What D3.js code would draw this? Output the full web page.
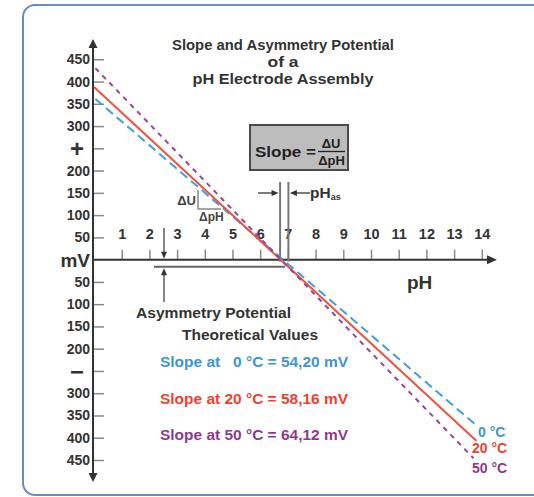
<!DOCTYPE html>
<html>
<head>
<meta charset="utf-8">
<script src="https://cdn.jsdelivr.net/npm/d3@7/dist/d3.min.js"></script>
<style>
  html, body { margin: 0; padding: 0; background: #fff; }
  svg { display: block; font-family: "Liberation Sans", Arial, Helvetica, sans-serif; font-weight: bold; }
</style>
</head>
<body>
<svg id="chart" width="534" height="497"></svg>
<script>
// ---------------- data ----------------
const titleLines = ["Slope and Asymmetry Potential", "of a", "pH Electrode Assembly"];
const pHTicks = [1, 2, 3, 4, 5, 6, 7, 8, 9, 10, 11, 12, 13, 14];
const mVTicks = [450, 400, 350, 300, 250, 200, 150, 100, 50, -50, -100, -150, -200, -250, -300, -350, -400, -450];
const seriesNames = ["0 °C", "20 °C", "50 °C"];
const seriesSlopes = ["54,20", "58,16", "64,12"];
const line0C = [[0.05, 361], [13.8, -372]];
const line20C = [[0.0, 388], [13.8, -407]];
const line50C = [[0.05, 430], [13.7, -446]];
const pHas = [6.7, 7.0];          // asymmetry pH markers
const asymPotential = -16;        // mV level of the intersection

// ---------------- setup ----------------
const svg = d3.select("#chart");
const colors = ["#3f9de0", "#f0503c", "#9b4597"];
const textColors = ["#3a96d6", "#ee3f31", "#8e3a8c"];
const dashes = ["9,5", null, "5,5"];

const x = d3.scaleLinear().domain([0, 14]).range([94, 481.8]);
const y = d3.scaleLinear().domain([-450, 450]).range([460, 59.3]);
const axisX = 93;

// frame
svg.append("rect").attr("x", 23).attr("y", 5).attr("width", 540).attr("height", 490)
  .attr("rx", 12).attr("fill", "#fff").attr("stroke", "#6b8cc2").attr("stroke-width", 2);

function arrowHead(tx, ty, dir, len, half, color) {
  let p;
  if (dir === "up") p = [[tx, ty], [tx - half, ty + len], [tx + half, ty + len]];
  if (dir === "down") p = [[tx, ty], [tx - half, ty - len], [tx + half, ty - len]];
  if (dir === "right") p = [[tx, ty], [tx - len, ty - half], [tx - len, ty + half]];
  if (dir === "left") p = [[tx, ty], [tx + len, ty - half], [tx + len, ty + half]];
  svg.append("path").attr("d", "M" + p.map(d => d.join(",")).join("L") + "Z").attr("fill", color || "#333");
}

// ---------------- title ----------------
const titleW = [222, 31, 181];
svg.append("g").selectAll("text").data(titleLines).join("text")
  .attr("x", 283).attr("y", (d, i) => 50 + i * 17)
  .attr("text-anchor", "middle").attr("font-size", 14.5).attr("fill", "#333")
  .attr("textLength", (d, i) => titleW[i]).attr("lengthAdjust", "spacingAndGlyphs")
  .text(d => d);

// ---------------- y axis ----------------
const yAxis = d3.axisLeft(y).tickValues(mVTicks).tickSizeInner(-11).tickSizeOuter(0).tickPadding(3)
  .tickFormat(d => d === 250 ? "+" : d === -250 ? "\u2212" : String(Math.abs(d)));
const gy = svg.append("g").attr("transform", `translate(${axisX},0)`).call(yAxis);
gy.select(".domain").remove();
gy.selectAll(".tick line").attr("stroke", "#888").attr("stroke-width", 1.5);
gy.selectAll(".tick text").attr("font-size", 14).attr("fill", "#333")
  .attr("font-family", "'Liberation Sans', Arial, sans-serif").attr("font-weight", "bold")
  .each(function (d) {
    if (Math.abs(d) === 250) {
      d3.select(this).attr("font-size", 24).attr("x", -9).attr("dy", d > 0 ? "0.36em" : "0.34em");
    }
  });

svg.append("line").attr("x1", axisX).attr("x2", axisX).attr("y1", 44).attr("y2", 476)
  .attr("stroke", "#333").attr("stroke-width", 2);
arrowHead(axisX, 39, "up", 9, 4.5);
arrowHead(axisX, 482, "down", 9, 4.5);

// ---------------- x axis ----------------
const xAxis = d3.axisTop(x).tickValues(pHTicks).tickSizeInner(10).tickSizeOuter(0).tickPadding(11)
  .tickFormat(d3.format("d"));
const gx = svg.append("g").attr("transform", `translate(0,${y(0)})`).call(xAxis);
gx.select(".domain").remove();
gx.selectAll(".tick line").attr("stroke", "#888").attr("stroke-width", 1.5);
gx.selectAll(".tick text").attr("font-size", 14.5).attr("fill", "#333")
  .attr("font-family", "'Liberation Sans', Arial, sans-serif").attr("font-weight", "bold");

svg.append("line").attr("x1", axisX).attr("x2", 489).attr("y1", y(0)).attr("y2", y(0))
  .attr("stroke", "#333").attr("stroke-width", 2);
arrowHead(497, y(0), "right", 10, 4.5);

svg.append("text").attr("x", 90).attr("y", y(0) + 7).attr("text-anchor", "end")
  .attr("font-size", 19).attr("fill", "#333").text("mV");
svg.append("text").attr("x", 407).attr("y", 289).attr("font-size", 19).attr("fill", "#333").text("pH");

// ---------------- annotations ----------------
// slope box
svg.append("rect").attr("x", 250).attr("y", 125).attr("width", 98).attr("height", 45)
  .attr("fill", "#bdbdbd").attr("stroke", "#4a4a4a").attr("stroke-width", 2);
svg.append("text").attr("x", 255).attr("y", 157).attr("font-size", 14.5).attr("fill", "#222")
  .attr("textLength", 61).attr("lengthAdjust", "spacingAndGlyphs").text("Slope =");
svg.append("text").attr("x", 331).attr("y", 148).attr("text-anchor", "middle").attr("font-size", 13).attr("fill", "#222").text("\u0394U");
svg.append("line").attr("x1", 318).attr("x2", 345).attr("y1", 151.5).attr("y2", 151.5).attr("stroke", "#222").attr("stroke-width", 1.3);
svg.append("text").attr("x", 331.5).attr("y", 165).attr("text-anchor", "middle").attr("font-size", 13).attr("fill", "#222").text("\u0394pH");

// pH_as markers
const pxL = x(pHas[0]) + 0.5, pxR = x(pHas[1]) + 0.5;
[pxL, pxR].forEach(px => {
  svg.append("line").attr("x1", px).attr("x2", px).attr("y1", 182).attr("y2", y(0) + 2)
    .attr("stroke", "#777").attr("stroke-width", 2);
});
svg.append("line").attr("x1", 258).attr("x2", pxL - 6).attr("y1", 193).attr("y2", 193).attr("stroke", "#333").attr("stroke-width", 1.3);
arrowHead(pxL - 1.5, 193, "right", 7, 3);
svg.append("line").attr("x1", 310).attr("x2", pxR + 6).attr("y1", 193).attr("y2", 193).attr("stroke", "#333").attr("stroke-width", 1.3);
arrowHead(pxR + 1.5, 193, "left", 7, 3);
const phas = svg.append("text").attr("x", 310).attr("y", 198).attr("font-size", 15.5).attr("fill", "#333");
phas.append("tspan").text("pH");
phas.append("tspan").attr("font-size", 9).attr("dy", 2).text("as");

// asymmetry potential bracket
const ay = y(asymPotential);
svg.append("line").attr("x1", 164).attr("x2", 164).attr("y1", 228).attr("y2", y(0) - 5).attr("stroke", "#444").attr("stroke-width", 1.3);
arrowHead(164, y(0) - 1, "down", 7, 3);
svg.append("line").attr("x1", 154).attr("x2", x(6.9)).attr("y1", ay).attr("y2", ay).attr("stroke", "#666").attr("stroke-width", 1.8);
svg.append("line").attr("x1", 164).attr("x2", 164).attr("y1", 302).attr("y2", ay + 5).attr("stroke", "#444").attr("stroke-width", 1.3);
arrowHead(164, ay + 1.5, "up", 7, 3);
svg.append("text").attr("x", 136).attr("y", 318).attr("font-size", 14.5).attr("fill", "#333")
  .attr("textLength", 155).attr("lengthAdjust", "spacingAndGlyphs").text("Asymmetry Potential");

// delta triangle
svg.append("path").attr("d", "M198,190 L198,209 L221,209").attr("fill", "none").attr("stroke", "#888").attr("stroke-width", 1.5);
svg.append("text").attr("x", 196).attr("y", 205).attr("text-anchor", "end").attr("font-size", 13).attr("fill", "#444").text("\u0394U");
svg.append("text").attr("x", 199).attr("y", 221).attr("font-size", 12).attr("fill", "#444").text("\u0394pH");

// ---------------- lines ----------------
const lineGen = d3.line().x(d => x(d[0])).y(d => y(d[1]));
const lines = [line0C, line20C, line50C];
svg.append("g").selectAll("path").data(lines).join("path")
  .attr("d", d => lineGen(d)).attr("fill", "none")
  .attr("stroke", (d, i) => colors[i]).attr("stroke-width", 2)
  .attr("stroke-dasharray", (d, i) => dashes[i]);

// end labels
const endLabelPos = [[478, 437], [472, 453], [472, 473]];
svg.append("g").selectAll("text").data(seriesNames).join("text")
  .attr("x", (d, i) => endLabelPos[i][0]).attr("y", (d, i) => endLabelPos[i][1])
  .attr("font-size", 14).attr("fill", (d, i) => textColors[i]).text(d => d);

// theoretical values
svg.append("text").attr("x", 182).attr("y", 340).attr("font-size", 14.5).attr("fill", "#333")
  .attr("textLength", 136).attr("lengthAdjust", "spacingAndGlyphs").text("Theoretical Values");
const legendY = [367, 404, 440];
svg.append("g").selectAll("text").data(seriesNames).join("text")
  .attr("x", 160).attr("y", (d, i) => legendY[i]).attr("font-size", 14.5)
  .attr("xml:space", "preserve")
  .attr("fill", (d, i) => textColors[i])
  .attr("textLength", 188).attr("lengthAdjust", "spacingAndGlyphs")
  .text((d, i) => "Slope at " + (d.length < 5 ? "  " : "") + d + " = " + seriesSlopes[i] + " mV");
</script>
</body>
</html>
